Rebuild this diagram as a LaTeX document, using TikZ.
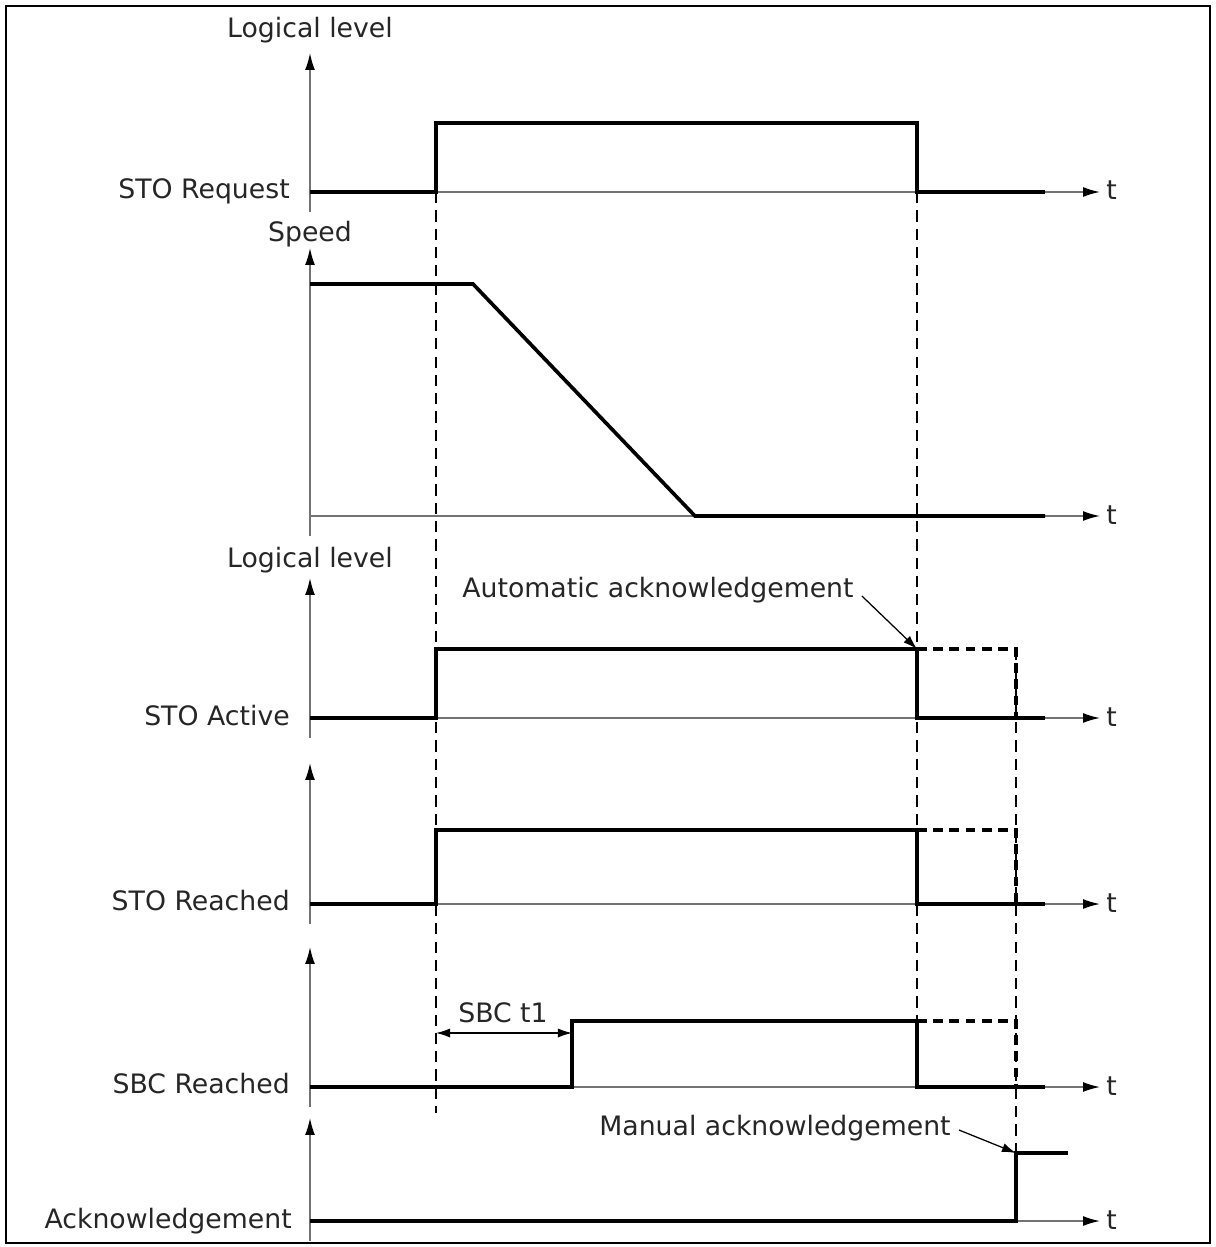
\documentclass[tikz,border=0pt]{standalone}
\usepackage{fontspec}
\setmainfont{DejaVu Sans}
\usetikzlibrary{arrows.meta,calc}

\begin{document}
\begin{tikzpicture}[x=0.025cm,y=-0.025cm,font=\fontsize{19}{23}\selectfont]
    % Colores
    \colorlet{axiscolor}{black!55}
    \colorlet{textcolor}{black!85}
    \tikzset{
        axisline/.style={axiscolor,line width=1.1pt,-{Latex[length=12pt,width=7pt,color=black]}},
        signal/.style={black,line width=2.6pt},
        signaldash/.style={black,line width=2.6pt,dash pattern=on 7pt off 4.5pt},
        guide/.style={black,line width=0.9pt,dash pattern=on 8pt off 5pt},
        annot/.style={black,line width=0.9pt,-{Latex[length=10pt,width=6.5pt]}},
        dimline/.style={black,line width=0.9pt,{Latex[length=10pt,width=6.5pt]}-{Latex[length=10pt,width=6.5pt]}},
        siglabel/.style={anchor=base east,inner sep=0pt,text=textcolor},
        axislabel/.style={anchor=base,inner sep=0pt,text=textcolor}
    }

    \useasboundingbox (0,0) rectangle (1215,1247);

    % Marco
    \draw[line width=1.4pt] (6,6) rectangle (1210,1243);

    % Ejes (eje vertical y eje de tiempo)
    \foreach \base/\tip [count=\i] in {192/53,516/248,718/578,904/763,1087/947,1221/1118}
    {
        \draw[axisline] (310,\base+20) -- (310,\tip);
        \draw[axisline] (310,\base) -- (1100,\base);
        \node[anchor=base west,inner sep=0pt,text=textcolor] (t\i) at (1106,\base+8) {t};
    }

    % Lineas guia
    \draw[guide] (436,192) -- (436,1113);
    \draw[guide] (917,192) -- (917,1087);
    \draw[guide] (1016,649) -- (1016,1153);

    % STO Request
    \draw[signal] (310,192) -- (436,192) -- (436,123) -- (917,123) -- (917,192) -- (1045,192);

    % Speed
    \draw[signal] (310,284) -- (473,284) -- (695,516) -- (1045,516);

    % STO Active, STO Reached, SBC Reached
    \foreach \lo/\hi/\up in {718/649/436,904/830/436,1087/1021/572}
    {
        \draw[signal] (310,\lo) -- (\up,\lo) -- (\up,\hi) -- (917,\hi) -- (917,\lo) -- (1045,\lo);
        \draw[signaldash] (917,\hi) -- (1016,\hi) -- (1016,\lo);
    }

    % Acknowledgement
    \draw[signal] (310,1221) -- (1016,1221) -- (1016,1153) -- (1068,1153);

    % Etiquetas
    \node[axislabel] (level1) at (310,38) {Logical level};
    \node[axislabel] (speed) at (310,242) {Speed};
    \node[axislabel] (level2) at (310,567) {Logical level};
    \node[siglabel] (request) at (290,199) {STO Request};
    \node[siglabel] (active) at (290,725) {STO Active};
    \node[siglabel] (storeached) at (290,910) {STO Reached};
    \node[siglabel] (sbcreached) at (290,1093) {SBC Reached};
    \node[siglabel] (ack) at (292,1228) {Acknowledgement};

    % Acuses de recibo
    \node[axislabel] (autoack) at (658,597) {Automatic acknowledgement};
    \coordinate (autoend) at (917,649);
    \draw[annot] ($(autoack.base east)+(8,-1)$) -- (autoend);

    \node[axislabel] (manualack) at (775,1135) {Manual acknowledgement};
    \coordinate (manualend) at (1016,1153);
    \draw[annot] ($(manualack.base east)+(8,-5)$) -- (manualend);

    % SBC t1
    \node[axislabel] (sbct) at (503,1022) {SBC t1};
    \coordinate (tstart) at (436,1033);
    \coordinate (tend) at (572,1033);
    \draw[dimline] (tstart) -- (tend);

\end{tikzpicture}
\end{document}
